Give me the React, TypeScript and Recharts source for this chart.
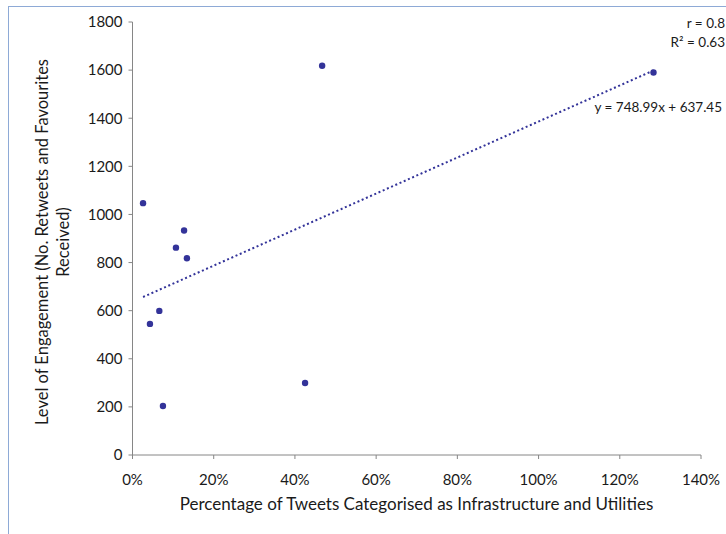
import { ScatterChart, Scatter, XAxis, YAxis, ReferenceLine } from 'recharts';

const shareInfra = [0.026, 0.127, 0.107, 0.134, 0.066, 0.043, 0.075, 0.425, 0.467, 1.283];
const engagement = [1047, 933, 862, 818, 599, 545, 204, 299, 1618, 1590];
const xTicks = [0, 0.2, 0.4, 0.6, 0.8, 1.0, 1.2, 1.4];
const yTicks = [0, 200, 400, 600, 800, 1000, 1200, 1400, 1600, 1800];

// trendline from the chart's own equation
const slope = 748.99;
const intercept = 637.45;

const points = shareInfra.map((x, i) => ({ x, y: engagement[i] }));
const xMin = Math.min(...shareInfra);
const xMax = Math.max(...shareInfra);

const FONT = 'Lato, sans-serif';
const BLUE = '#333399';
const AXIS = '#868686';
const INK = '#1a1a1a';

const Dot = (props: any) => <circle cx={props.cx} cy={props.cy} r={3.2} fill={BLUE} />;

export default function App() {
  return (
    <div
      style={{
        position: 'absolute',
        left: 0,
        top: 0,
        width: 726,
        height: 534,
        overflow: 'hidden',
        background: '#fff',
        fontFamily: FONT,
      }}
    >
      <div
        style={{
          position: 'absolute',
          left: 8,
          top: 6,
          width: 760,
          height: 560,
          border: '1px solid #8eaad6',
        }}
      />
      <ScatterChart width={726} height={534} margin={{ top: 22, right: 25, left: 0, bottom: 0 }}>
        <XAxis
          type="number"
          dataKey="x"
          domain={[0, 1.4]}
          ticks={xTicks}
          tickFormatter={(v) => `${Math.round(v * 100)}%`}
          height={79}
          stroke={AXIS}
          tickSize={4}
          tickMargin={15}
          tick={{ fill: INK, fontSize: 15, fontFamily: FONT }}
          label={{
            content: () => (
              <text x={416.5} y={510} textAnchor="middle" fill={INK} fontSize={17} fontFamily={FONT}>
                Percentage of Tweets Categorised as Infrastructure and Utilities
              </text>
            ),
          }}
        />
        <YAxis
          type="number"
          dataKey="y"
          domain={[0, 1800]}
          ticks={yTicks}
          width={132.5}
          stroke={AXIS}
          tickSize={4}
          tickMargin={6}
          tick={{ fill: INK, fontSize: 15, fontFamily: FONT }}
          label={{
            content: () => (
              <text
                transform="translate(0,242) rotate(-90)"
                textAnchor="middle"
                fill={INK}
                fontSize={16.5}
                fontFamily={FONT}
              >
                <tspan x={0} y={48}>Level of Engagement (No. Retweets and Favourites</tspan>
                <tspan x={0} y={69}>Received)</tspan>
              </text>
            ),
          }}
        />
        <ReferenceLine
          segment={[
            { x: xMin, y: slope * xMin + intercept },
            { x: xMax, y: slope * xMax + intercept },
          ]}
          stroke={BLUE}
          strokeWidth={2}
          strokeDasharray="2 2.6"
          ifOverflow="visible"
        />
        <Scatter data={points} fill={BLUE} shape={Dot} isAnimationActive={false} />
      </ScatterChart>
      <div style={{ position: 'absolute', right: 1, top: 14, fontSize: 13.5, color: INK, textAlign: 'right', lineHeight: '19px' }}>
        r = 0.8
        <br />
        R² = 0.63
      </div>
      <div style={{ position: 'absolute', right: 4, top: 99, fontSize: 13.5, color: INK }}>
        y = 748.99x + 637.45
      </div>
    </div>
  );
}
